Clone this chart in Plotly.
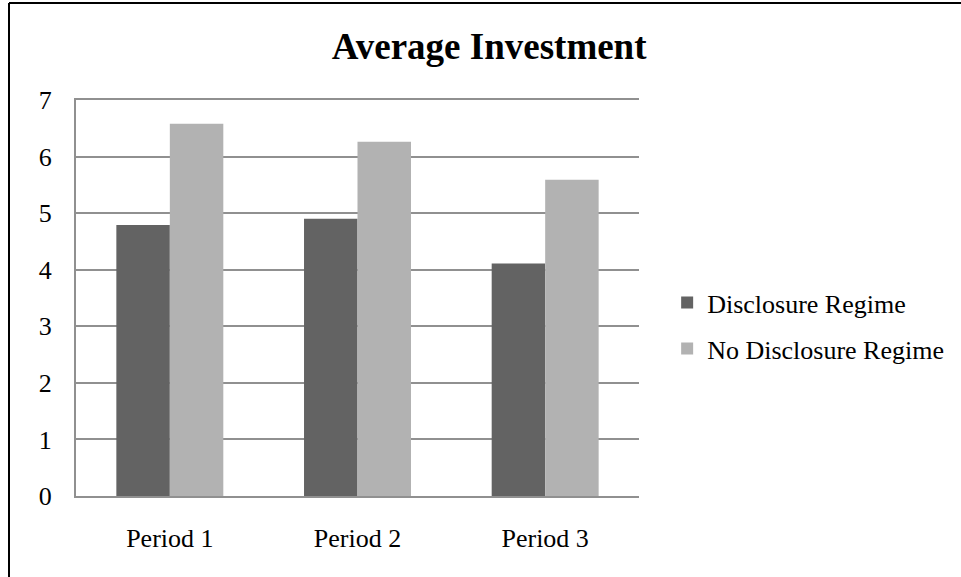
import plotly.graph_objects as go

categories = ["Period 1", "Period 2", "Period 3"]
disclosure = [4.79, 4.90, 4.11]
no_disclosure = [6.58, 6.26, 5.59]
series_names = ["Disclosure Regime", "No Disclosure Regime"]
y_ticks = [0, 1, 2, 3, 4, 5, 6, 7]

FONT = "Liberation Serif, Times New Roman, serif"

fig = go.Figure()
fig.add_trace(go.Bar(x=categories, y=disclosure, name=series_names[0],
                     marker=dict(color="#636363", line=dict(width=0)),
                     legendgroup="a"))
fig.add_trace(go.Bar(x=categories, y=no_disclosure, name=series_names[1],
                     marker=dict(color="#b2b2b2", line=dict(width=0)),
                     legendgroup="b"))

fig.update_layout(
    width=961, height=577,
    margin=dict(l=76, r=322, t=100, b=81),
    paper_bgcolor="white", plot_bgcolor="white",
    font=dict(family=FONT, size=26, color="black"),
    title=dict(text="<b>Average Investment</b>", x=0.509, xref="container",
               y=1 - 46 / 577, yref="container", yanchor="middle", xanchor="center",
               font=dict(family=FONT, size=37, color="black")),
    barmode="group", bargap=0.43, bargroupgap=0,
    showlegend=True,
    legend=dict(x=1.05, xanchor="left", y=0.43, yanchor="middle",
                font=dict(family=FONT, size=26, color="black"),
                tracegroupgap=9, bgcolor="rgba(0,0,0,0)"),
    xaxis=dict(showgrid=False, showline=True, linecolor="#909090", linewidth=2,
               mirror=True, ticks="", ticklabelstandoff=18),
    yaxis=dict(range=[0, 7], tickvals=y_ticks, showgrid=True, gridcolor="#909090",
               gridwidth=2, showline=True, linecolor="#909090", linewidth=2,
               ticks="", ticklabelstandoff=17, zeroline=False),
    shapes=[
        dict(type="line", xref="paper", yref="paper",
             x0=(9 - 76) / 563, x1=(9 - 76) / 563, y0=-0.3, y1=(496 - 3) / 396,
             line=dict(color="black", width=2)),
        dict(type="line", xref="paper", yref="paper",
             x0=(9 - 76) / 563, x1=1.6, y0=(496 - 3) / 396, y1=(496 - 3) / 396,
             line=dict(color="black", width=2)),
    ],
)

fig.write_html("out.html")
